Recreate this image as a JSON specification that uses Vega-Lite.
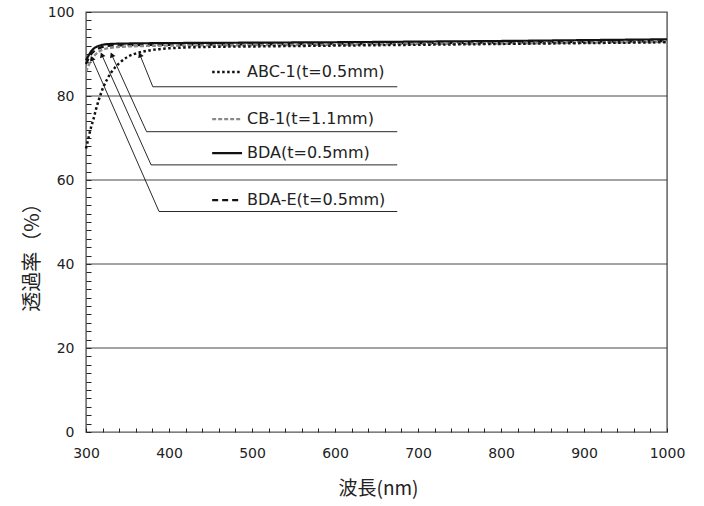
{
  "$schema": "https://vega.github.io/schema/vega-lite/v6.json",
  "width": 581,
  "height": 420,
  "autosize": {"type": "none"},
  "padding": {"left": 86, "top": 12, "right": 37, "bottom": 74},
  "background": "white",
  "config": {
    "font": "DejaVu Sans",
    "view": {"stroke": "#555", "strokeWidth": 1.4},
    "axis": {"labelFont": "DejaVu Sans", "titleFont": "Noto Sans CJK JP", "labelColor": "#222", "titleColor": "#222", "labelFontSize": 14, "titleFontWeight": "normal", "domain": false, "tickColor": "#222", "tickWidth": 1, "labelOverlap": false, "labelFlush": false, "grid": false},
    "axisX": {"tickCount": 35, "labelExpr": "datum.value % 100 === 0 ? '' + datum.value : ''", "offset": -4, "tickSize": 4, "labelPadding": 14, "titleFontSize": 19, "titleX": 292, "titleY": 60, "titleBaseline": "middle", "titleAlign": "center"},
    "axisY": {"tickCount": 50, "labelExpr": "datum.value % 20 === 0 ? '' + datum.value : ''", "offset": -5, "tickSize": 5, "labelPadding": 12, "titleFontSize": 20, "titleX": -59, "titleY": 240, "titleBaseline": "middle", "titleAlign": "center"}
  },
  "datasets": {
    "curves": [
      {"series": "BDA", "wl": 300, "T": 88.5}, {"series": "BDA", "wl": 303, "T": 89.6}, {"series": "BDA", "wl": 306, "T": 90.6}, {"series": "BDA", "wl": 310, "T": 91.4}, {"series": "BDA", "wl": 315, "T": 91.9}, {"series": "BDA", "wl": 320, "T": 92.2}, {"series": "BDA", "wl": 330, "T": 92.4}, {"series": "BDA", "wl": 350, "T": 92.5}, {"series": "BDA", "wl": 400, "T": 92.6}, {"series": "BDA", "wl": 500, "T": 92.7}, {"series": "BDA", "wl": 600, "T": 92.8}, {"series": "BDA", "wl": 700, "T": 92.95}, {"series": "BDA", "wl": 800, "T": 93.1}, {"series": "BDA", "wl": 900, "T": 93.3}, {"series": "BDA", "wl": 1000, "T": 93.5},
      {"series": "BDA-E", "wl": 300, "T": 87.6}, {"series": "BDA-E", "wl": 303, "T": 88.9}, {"series": "BDA-E", "wl": 306, "T": 89.9}, {"series": "BDA-E", "wl": 310, "T": 90.7}, {"series": "BDA-E", "wl": 315, "T": 91.3}, {"series": "BDA-E", "wl": 320, "T": 91.7}, {"series": "BDA-E", "wl": 330, "T": 92.0}, {"series": "BDA-E", "wl": 350, "T": 92.1}, {"series": "BDA-E", "wl": 400, "T": 92.2}, {"series": "BDA-E", "wl": 500, "T": 92.3}, {"series": "BDA-E", "wl": 600, "T": 92.45}, {"series": "BDA-E", "wl": 700, "T": 92.6}, {"series": "BDA-E", "wl": 800, "T": 92.75}, {"series": "BDA-E", "wl": 900, "T": 92.9}, {"series": "BDA-E", "wl": 1000, "T": 93.1},
      {"series": "CB-1", "wl": 300, "T": 85.8}, {"series": "CB-1", "wl": 303, "T": 87.2}, {"series": "CB-1", "wl": 306, "T": 88.5}, {"series": "CB-1", "wl": 310, "T": 89.6}, {"series": "CB-1", "wl": 315, "T": 90.5}, {"series": "CB-1", "wl": 320, "T": 91.0}, {"series": "CB-1", "wl": 330, "T": 91.5}, {"series": "CB-1", "wl": 350, "T": 91.8}, {"series": "CB-1", "wl": 400, "T": 92.0}, {"series": "CB-1", "wl": 500, "T": 92.1}, {"series": "CB-1", "wl": 600, "T": 92.2}, {"series": "CB-1", "wl": 700, "T": 92.4}, {"series": "CB-1", "wl": 800, "T": 92.5}, {"series": "CB-1", "wl": 900, "T": 92.7}, {"series": "CB-1", "wl": 1000, "T": 92.9},
      {"series": "ABC-1", "wl": 300, "T": 67.5}, {"series": "ABC-1", "wl": 303, "T": 70.0}, {"series": "ABC-1", "wl": 306, "T": 72.5}, {"series": "ABC-1", "wl": 309, "T": 74.5}, {"series": "ABC-1", "wl": 312, "T": 76.8}, {"series": "ABC-1", "wl": 315, "T": 78.8}, {"series": "ABC-1", "wl": 318, "T": 80.6}, {"series": "ABC-1", "wl": 321, "T": 82.2}, {"series": "ABC-1", "wl": 325, "T": 83.8}, {"series": "ABC-1", "wl": 330, "T": 85.5}, {"series": "ABC-1", "wl": 335, "T": 86.8}, {"series": "ABC-1", "wl": 340, "T": 87.8}, {"series": "ABC-1", "wl": 350, "T": 89.3}, {"series": "ABC-1", "wl": 365, "T": 90.4}, {"series": "ABC-1", "wl": 385, "T": 91.1}, {"series": "ABC-1", "wl": 413, "T": 91.5}, {"series": "ABC-1", "wl": 450, "T": 91.7}, {"series": "ABC-1", "wl": 500, "T": 91.8}, {"series": "ABC-1", "wl": 600, "T": 92.0}, {"series": "ABC-1", "wl": 700, "T": 92.2}, {"series": "ABC-1", "wl": 800, "T": 92.4}, {"series": "ABC-1", "wl": 900, "T": 92.6}, {"series": "ABC-1", "wl": 1000, "T": 92.8}
    ],
    "ann": [
      {"series": "ABC-1", "label": "ABC-1(t=0.5mm)", "lx": 380.5, "ly": 82.2, "tipx": 365, "tipy": 89.8, "ty": 85.7},
      {"series": "CB-1", "label": "CB-1(t=1.1mm)", "lx": 373, "ly": 71.5, "tipx": 331, "tipy": 89.8, "ty": 74.5},
      {"series": "BDA", "label": "BDA(t=0.5mm)", "lx": 378.4, "ly": 63.6, "tipx": 319, "tipy": 89.8, "ty": 66.4},
      {"series": "BDA-E", "label": "BDA-E(t=0.5mm)", "lx": 388, "ly": 52.5, "tipx": 307, "tipy": 89.0, "ty": 55.2}
    ],
    "grid": [{"v": 20}, {"v": 40}, {"v": 60}, {"v": 80}]
  },
  "layer": [
    {
      "data": {"name": "grid"},
      "mark": {"type": "rule", "color": "#333", "strokeWidth": 0.9},
      "encoding": {
        "y": {"field": "v", "type": "quantitative", "title": "透過率（%）"}
      }
    },
    {
      "data": {"name": "curves"},
      "mark": {"type": "line", "strokeCap": "butt", "interpolate": "monotone"},
      "encoding": {
        "x": {"field": "wl", "type": "quantitative", "title": "波長(nm)", "scale": {"domain": [300, 1000], "nice": false}},
        "y": {"field": "T", "type": "quantitative", "title": "透過率（%）", "scale": {"domain": [0, 100], "nice": false}},
        "detail": {"field": "series"},
        "color": {"field": "series", "type": "nominal", "legend": null, "scale": {"domain": ["ABC-1", "CB-1", "BDA-E", "BDA"], "range": ["#111", "#8a8a8a", "#111", "#111"]}},
        "strokeDash": {"field": "series", "type": "nominal", "legend": null, "scale": {"domain": ["ABC-1", "CB-1", "BDA-E", "BDA"], "range": [[2.5, 2.5], [4, 2], [6, 4], [1, 0]]}},
        "strokeWidth": {"field": "series", "type": "nominal", "legend": null, "scale": {"domain": ["ABC-1", "CB-1", "BDA-E", "BDA"], "range": [2.5, 2.2, 2, 2.6]}}
      }
    },
    {
      "data": {"name": "ann"},
      "mark": {"type": "rule", "color": "#111", "strokeWidth": 0.9},
      "encoding": {
        "x": {"field": "lx", "type": "quantitative", "title": "波長(nm)"},
        "y": {"field": "ly", "type": "quantitative", "title": "透過率（%）"},
        "x2": {"field": "tipx"},
        "y2": {"field": "tipy"}
      }
    },
    {
      "data": {"name": "ann"},
      "mark": {"type": "rule", "color": "#111", "strokeWidth": 0.9},
      "encoding": {
        "x": {"field": "lx", "type": "quantitative", "title": "波長(nm)"},
        "x2": {"datum": 675},
        "y": {"field": "ly", "type": "quantitative", "title": "透過率（%）"}
      }
    },
    {
      "data": {"name": "ann"},
      "mark": {"type": "point", "shape": "triangle-up", "filled": true, "size": 34, "angle": 337, "color": "#111", "opacity": 1},
      "encoding": {
        "x": {"field": "tipx", "type": "quantitative", "title": "波長(nm)"},
        "y": {"field": "tipy", "type": "quantitative", "title": "透過率（%）"}
      }
    },
    {
      "data": {"name": "ann"},
      "mark": {"type": "rule", "strokeCap": "butt"},
      "encoding": {
        "x": {"datum": 452, "type": "quantitative", "title": "波長(nm)"},
        "x2": {"datum": 488},
        "y": {"field": "ty", "type": "quantitative", "title": "透過率（%）"},
        "color": {"field": "series", "type": "nominal", "legend": null},
        "strokeDash": {"field": "series", "type": "nominal", "legend": null},
        "strokeWidth": {"field": "series", "type": "nominal", "legend": null}
      }
    },
    {
      "data": {"name": "ann"},
      "mark": {"type": "text", "align": "left", "baseline": "middle", "fontSize": 16, "color": "#222", "font": "DejaVu Sans"},
      "encoding": {
        "x": {"datum": 494, "type": "quantitative", "title": "波長(nm)"},
        "y": {"field": "ty", "type": "quantitative", "title": "透過率（%）"},
        "text": {"field": "label"}
      }
    },
    {
      "mark": {"type": "rule", "color": "#111", "strokeWidth": 2.2},
      "encoding": {
        "x": {"datum": 300, "type": "quantitative", "title": "波長(nm)"}
      }
    },
    {
      "mark": {"type": "rule", "color": "#111", "strokeWidth": 2.2},
      "encoding": {
        "y": {"datum": 0, "type": "quantitative", "title": "透過率（%）"}
      }
    }
  ]
}
